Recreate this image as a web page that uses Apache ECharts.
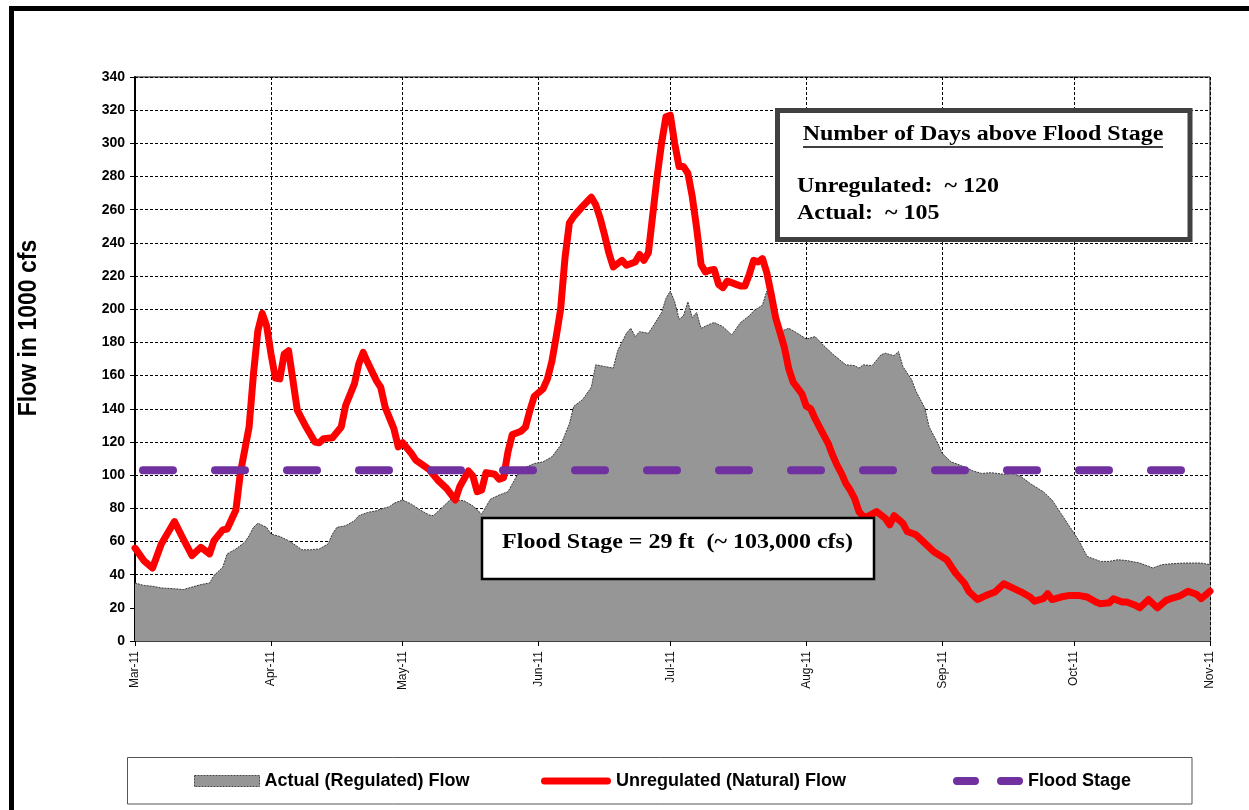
<!DOCTYPE html>
<html>
<head>
<meta charset="utf-8">
<script src="https://cdn.jsdelivr.net/npm/echarts@6/dist/echarts.min.js"></script>
<style>
  html, body { margin: 0; padding: 0; background: #fff; }
  #chart { width: 1249px; height: 810px; }
</style>
</head>
<body>
<div id="chart"></div>
<script>
// day offsets counted from 1 Mar 2011
const monthDays = [0, 31, 61, 92, 122, 153, 184, 214, 245];
const monthLabels = ['Mar-11', 'Apr-11', 'May-11', 'Jun-11', 'Jul-11', 'Aug-11', 'Sep-11', 'Oct-11', 'Nov-11'];

// Actual (regulated) flow, 1000 cfs
const actualDays = [0,2,4,6,9,11,13,15,17,18,20,21,23,25,26,27,28,30,31,33,35,37,38,40,42,44,45,46,48,50,51,53,55,56,58,59,61,63,65,67,68,70,72,75,77,79,81,83,85,87,88,91,93,95,97,99,100,102,104,105,107,109,110,112,113,114,115,117,118,120,121,122,123,124,125,126,127,128,129,131,132,134,136,138,140,141,143,144,146,147,149,151,153,155,157,159,162,164,165,166,168,170,171,173,174,175,177,178,180,181,183,184,186,189,191,193,195,198,200,202,204,207,209,211,213,215,217,220,222,224,226,229,231,232,234,236,239,241,243,245];
const actualFlow = [35,33.5,33,32,31.5,31,32.5,34,35,39.5,44.5,52.5,55.5,59.5,63.5,68.5,71,68.5,64.5,63,60.5,57,55,55,55.5,58.5,64.5,68.5,69.5,72.5,75.5,77.5,78.5,79.5,81,83,85,82.5,79,76,75.5,80.5,85.5,84.5,81.5,76.5,85.5,88,90,99.5,103.5,107,108,111,118,131,141.5,145.5,153,166.5,165.5,164.5,175,185.5,188.5,183.5,186.5,185.5,189.5,198,206.5,211,204.5,194,196,204.5,195,198,188.5,191,192,189.5,184.5,192,196,199,202.5,211,196,186.5,188.5,185.5,182,183.5,178,173,166.5,166,164.5,166.5,166,172.5,173.5,172,174.5,165.5,157.5,150.5,140.5,129,119,113,108,105,102.5,101,101.5,100.5,101,99,95,90,85,77,69,61,51,48,48,49,48.5,47,45,44,46,46.5,47,47,47,46];

// Unregulated (natural) flow, 1000 cfs
const naturalDays = [0,2,4,6,9,11,13,15,17,18,20,21,23,24,26,27,28,29,30,31,32,33,34,35,36,37,39,41,42,43,45,47,48,50,51,52,53,55,56,57,59,60,61,63,64,67,69,71,73,74,76,77,78,79,80,82,83,84,85,86,88,89,90,91,93,94,95,96,97,98,99,100,102,104,105,106,107,108,109,111,112,114,115,116,117,118,119,120,121,122,123,124,125,126,127,128,129,130,131,132,133,134,135,137,138,139,140,141,142,143,144,145,146,148,149,150,152,153,154,155,156,158,159,160,161,162,163,164,165,166,167,169,171,172,173,175,176,178,180,182,185,187,189,190,192,194,196,198,200,202,204,205,207,208,209,211,213,215,217,219,220,222,223,225,226,228,229,231,232,233,235,236,238,240,242,243,245];
const naturalFlow = [56,48.5,44,58.5,72,61.5,51.5,56.5,52.5,60.5,67,67.5,79,101,129,161,187,197.5,190,173,158.5,158,173,175,157,139,129,120,119.5,122,122.5,129,142,155,167,174,168,157,153,141,128,117,119.5,113,109,103.5,97,92,85,93,102.5,99.5,90,91,101.5,100.5,97.5,98.5,114,124.5,126.5,129,139,147.5,152,158,168.5,183.5,200,231,252,256,262,267.5,263,255,245,234,225.5,229.5,226.5,228.5,233,229.5,234,257,280,300,316,317,300,286,286,282,268,249,227,222.5,223.5,224,215,213,217,215,214,214,221,229.5,228.5,230.5,222,209,195,177,164,156,149,141.5,140,134,129,119,112,106,101,95,91,86,78,75,75,78,74,70,75.5,71,66,64,59,54,49,41,35,30,25,27.5,29.5,34.5,32,29.5,26.5,24,25.5,28.5,25,26.5,27.5,27.5,26.5,23.5,22.5,23,25.5,23.5,23.5,21.5,20,25,22.5,20,24.5,25.5,27,30,28,25.5,30];

const floodStage = 103;

const sans = '"Liberation Sans", Arial, sans-serif';
const serif = '"Liberation Serif", "Times New Roman", serif';
const toPairs = (xs, ys) => xs.map((d, i) => [d, ys[i]]);

const chart = echarts.init(document.getElementById('chart'));

const legendText = { fontFamily: sans, fontWeight: 'bold', fontSize: 18, color: '#000' };
// rounded-end strokes for the legend keys
const capsule = 'path://M3.5,0H66.5A3.5,3.5,0,0,1,66.5,7H3.5A3.5,3.5,0,0,1,3.5,0Z';
const twoDashes = 'path://M4,0H22A4,4,0,0,1,22,8H4A4,4,0,0,1,4,0Z M48,0H66A4,4,0,0,1,66,8H48A4,4,0,0,1,48,0Z';

const option = {
  animation: false,
  backgroundColor: '#fff',
  grid: { left: 135, right: 39, top: 77, bottom: 169, show: true, borderColor: '#000', borderWidth: 1, backgroundColor: '#fff' },
  xAxis: {
    type: 'value', min: monthDays[0], max: monthDays[monthDays.length - 1],
    axisLine: { show: true, onZero: false, lineStyle: { color: '#404040', width: 2 } },
    axisTick: { show: true, customValues: monthDays, length: 5, lineStyle: { color: '#000' } },
    axisLabel: {
      customValues: monthDays, rotate: 90, margin: 10, fontSize: 12, color: '#111', fontFamily: sans,
      formatter: v => monthLabels[monthDays.indexOf(v)] || ''
    },
    splitLine: { show: true, lineStyle: { color: '#000', type: [3, 2], width: 1 } }
  },
  yAxis: {
    type: 'value', min: 0, max: 340, interval: 20,
    axisLine: { show: true, lineStyle: { color: '#000', width: 2 } },
    axisTick: { show: true, length: 5, lineStyle: { color: '#000' } },
    axisLabel: { fontSize: 14, fontWeight: 'bold', color: '#000', margin: 10, fontFamily: sans },
    splitLine: { show: true, lineStyle: { color: '#000', type: [3, 2], width: 1 } }
  },
  legend: [
    {
      left: 194, top: 772, padding: 0, itemWidth: 65, itemHeight: 11, textStyle: legendText,
      data: [{ name: 'Actual (Regulated) Flow', icon: 'rect',
        itemStyle: { color: '#969696', borderColor: '#444', borderWidth: 1, borderType: [2, 1] } }]
    },
    {
      left: 541, top: 772, padding: 0, itemWidth: 70, itemHeight: 7, textStyle: legendText,
      data: [{ name: 'Unregulated (Natural) Flow', icon: capsule, itemStyle: { color: '#ff0000', borderWidth: 0 } }]
    },
    {
      left: 953, top: 772, padding: 0, itemWidth: 70, itemHeight: 8, textStyle: legendText,
      data: [{ name: 'Flood Stage', icon: twoDashes, itemStyle: { color: '#7030a0', borderWidth: 0 } }]
    }
  ],
  series: [
    {
      name: 'Actual (Regulated) Flow', type: 'line', z: 2,
      data: toPairs(actualDays, actualFlow), symbol: 'none',
      lineStyle: { color: '#3a3a3a', width: 1, type: [2, 1] },
      itemStyle: { color: '#969696' },
      areaStyle: { color: '#969696', opacity: 1 }
    },
    {
      name: 'Unregulated (Natural) Flow', type: 'line', z: 3,
      data: toPairs(naturalDays, naturalFlow), symbol: 'none',
      lineStyle: { color: '#ff0000', width: 7, cap: 'round', join: 'round' },
      itemStyle: { color: '#ff0000' }
    },
    {
      name: 'Flood Stage', type: 'line', z: 4,
      data: [[monthDays[0], floodStage], [monthDays[monthDays.length - 1], floodStage]], symbol: 'none',
      lineStyle: { color: '#7030a0', width: 8, type: [30, 42], cap: 'round', dashOffset: -8 },
      itemStyle: { color: '#7030a0' }
    }
  ],
  graphic: [
    { type: 'rect', z: 100, silent: true, shape: { x: 11.5, y: 8.5, width: 1400, height: 1000 },
      style: { fill: null, stroke: '#000', lineWidth: 5 } },
    { type: 'rect', z: 100, silent: true, shape: { x: 127.5, y: 757.5, width: 1064.5, height: 46.5 },
      style: { fill: null, stroke: '#555', lineWidth: 1 } },
    { type: 'text', z: 100, x: 29, y: 328, rotation: Math.PI / 2, scaleY: 1.1,
      style: { text: 'Flow in 1000 cfs', font: 'bold 23px ' + sans, fill: '#000', align: 'center', verticalAlign: 'middle', textAlign: 'center', textVerticalAlign: 'middle' } },

    { type: 'rect', z: 100, shape: { x: 777.5, y: 110.5, width: 412.5, height: 129 },
      style: { fill: '#fff', stroke: '#404040', lineWidth: 5 } },
    { type: 'text', z: 101, x: 983, y: 135, scaleX: 1.2,
      style: { text: 'Number of Days above Flood Stage', font: 'bold 20px ' + serif, fill: '#000', align: 'center', verticalAlign: 'middle', textAlign: 'center', textVerticalAlign: 'middle' } },
    { type: 'line', z: 101, shape: { x1: 803, y1: 147, x2: 1163, y2: 147 }, style: { stroke: '#000', lineWidth: 1.5 } },
    { type: 'text', z: 101, x: 797, y: 187, scaleX: 1.2,
      style: { text: 'Unregulated:  ~ 120', font: 'bold 20px ' + serif, fill: '#000', align: 'left', verticalAlign: 'middle', textAlign: 'left', textVerticalAlign: 'middle' } },
    { type: 'text', z: 101, x: 797, y: 214, scaleX: 1.2,
      style: { text: 'Actual:  ~ 105', font: 'bold 20px ' + serif, fill: '#000', align: 'left', verticalAlign: 'middle', textAlign: 'left', textVerticalAlign: 'middle' } },

    { type: 'rect', z: 100, shape: { x: 482, y: 518, width: 392, height: 61 },
      style: { fill: '#fff', stroke: '#000', lineWidth: 2.5 } },
    { type: 'text', z: 101, x: 677.5, y: 543, scaleX: 1.2,
      style: { text: 'Flood Stage = 29 ft  (~ 103,000 cfs)', font: 'bold 20px ' + serif, fill: '#000', align: 'center', verticalAlign: 'middle', textAlign: 'center', textVerticalAlign: 'middle' } }
  ]
};

chart.setOption(option);
</script>
</body>
</html>
